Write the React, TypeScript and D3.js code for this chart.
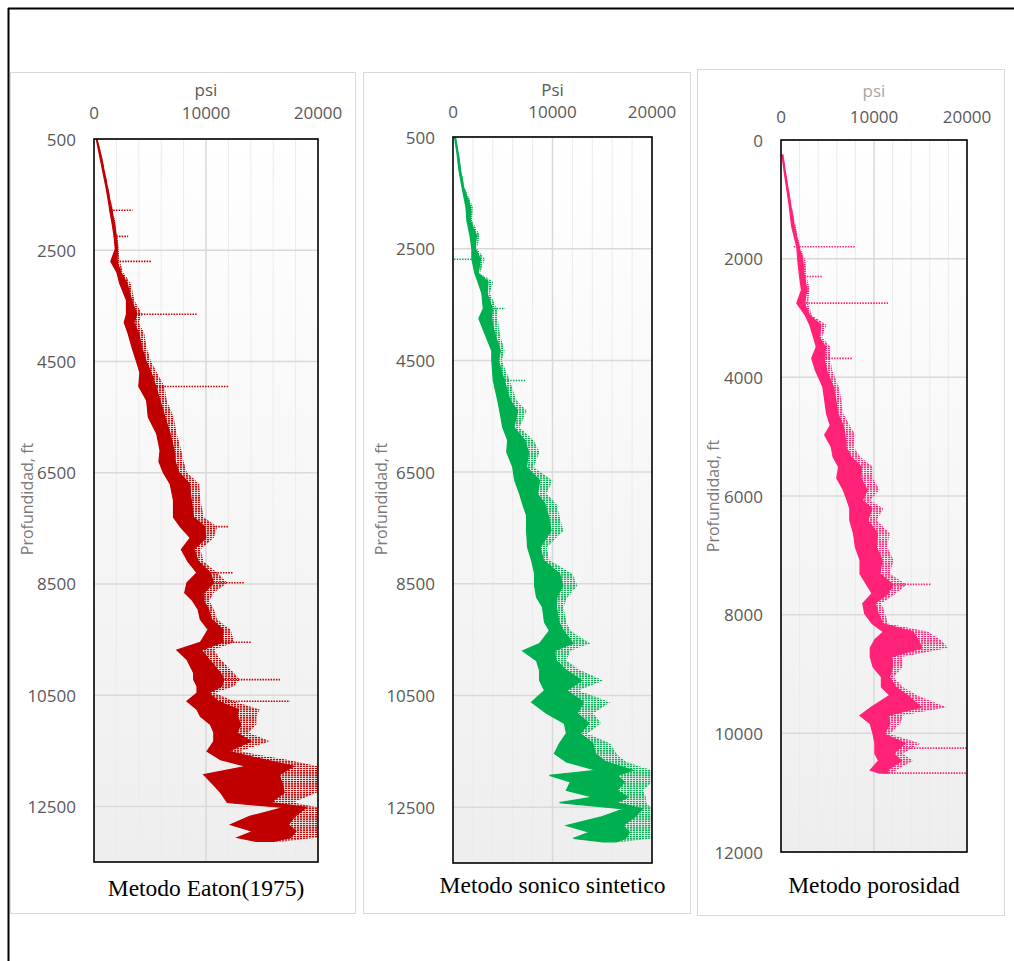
import React from "react";
import * as d3 from "d3";

// ---- Metodo Eaton (1975) ----
const eatonDepth = [500, 800, 1100, 1400, 1700, 1780, 2000, 2250, 2480, 2700, 2900, 3100, 3400, 3650, 3800, 4000, 4250, 4500, 4700, 4950, 5200, 5500, 5800, 6100, 6300, 6500, 6700, 7000, 7300, 7470, 7670, 7880, 8100, 8300, 8480, 8660, 8800, 8960, 9140, 9320, 9550, 9690, 9860, 10100, 10220, 10340, 10460, 10610, 10760, 10880, 11030, 11170, 11330, 11510, 11660, 11780, 11930, 12140, 12250, 12430, 12520, 12680, 12830, 12950, 13060, 13130];
const eatonLo = [200, 500, 800, 1100, 1350, 1400, 1600, 1800, 1900, 1500, 2050, 2300, 2900, 2900, 2700, 3050, 3400, 3800, 4100, 4000, 4700, 4850, 5600, 5900, 5800, 6200, 6800, 7100, 7100, 7700, 8600, 7800, 8400, 9200, 8300, 8100, 8800, 9300, 9500, 10200, 9500, 7400, 8300, 8900, 8900, 9200, 9200, 8300, 9200, 9500, 10400, 10700, 10700, 10100, 11300, 13600, 9800, 10800, 11300, 11900, 16900, 13900, 12200, 14200, 12800, 14500];
const eatonHi = [300, 700, 1000, 1300, 1600, 1700, 1900, 2100, 2200, 2300, 2600, 3300, 3600, 4300, 4000, 4500, 4700, 5100, 5600, 6300, 6500, 7100, 7400, 7800, 8000, 8300, 9400, 9500, 9800, 11000, 10700, 9500, 9800, 11000, 11900, 10700, 10300, 10700, 11000, 12200, 12500, 10700, 11300, 12500, 13000, 12500, 10800, 12500, 14800, 14500, 14500, 13800, 15700, 13000, 17200, 20000, 20000, 20000, 19900, 17800, 20000, 20000, 20000, 20000, 20000, 16900];
const eatonSpikeDepth = [1780, 2250, 2700, 3650, 4950, 7470, 8300, 8480, 9550, 10220, 10610];
const eatonSpikeReach = [3450, 3050, 5150, 9200, 12000, 12000, 12450, 13400, 14100, 16600, 17500];

// ---- Metodo sonico sintetico ----
const sonicoDepth = [500, 800, 1100, 1400, 1750, 2000, 2260, 2490, 2690, 2940, 3090, 3300, 3570, 3750, 4020, 4330, 4500, 4860, 5220, 5400, 5700, 5930, 6140, 6410, 6650, 6890, 7070, 7280, 7550, 7850, 8080, 8320, 8530, 8740, 8920, 9190, 9340, 9570, 9700, 9880, 10050, 10230, 10410, 10620, 10820, 11000, 11180, 11360, 11540, 11690, 11840, 11930, 12050, 12200, 12320, 12420, 12530, 12680, 12830, 12950, 13060, 13120];
const sonicoLo = [150, 400, 600, 900, 1300, 1400, 1700, 1900, 1900, 2200, 2500, 2900, 3050, 2600, 3200, 3900, 3900, 4050, 4500, 4700, 5000, 5500, 5400, 6000, 6200, 6700, 7000, 7400, 7400, 7500, 7900, 8200, 8200, 8400, 9000, 9200, 9700, 8700, 7000, 8400, 8700, 8700, 9200, 7900, 9400, 11200, 11400, 10700, 10200, 11400, 14400, 9700, 11800, 11400, 14100, 10700, 17200, 14800, 11400, 13700, 12100, 15100];
const sonicoHi = [300, 600, 850, 1150, 2000, 1900, 2700, 2400, 3200, 2700, 4050, 3700, 4400, 4500, 4700, 5200, 4900, 5700, 6400, 7400, 6700, 8100, 8700, 8100, 10000, 9400, 10400, 10700, 11100, 9400, 9700, 12000, 12500, 11500, 11100, 11400, 11800, 13800, 11800, 11400, 12800, 15100, 12600, 15800, 14100, 14900, 13500, 15800, 16400, 17400, 20000, 20000, 20000, 19100, 19400, 19400, 20000, 20000, 20000, 19800, 20000, 17100];
const sonicoSpikeDepth = [2690, 3570, 4860];
const sonicoSpikeReach = [0, 5250, 7250];

// ---- Metodo porosidad ----
const porosDepth = [250, 600, 1070, 1460, 1800, 2020, 2300, 2530, 2750, 2950, 3120, 3320, 3490, 3680, 3880, 4160, 4380, 4610, 4810, 4970, 5170, 5340, 5510, 5700, 5900, 6070, 6210, 6410, 6630, 6860, 7080, 7310, 7490, 7640, 7810, 7980, 8150, 8290, 8420, 8560, 8710, 8880, 9050, 9220, 9360, 9560, 9700, 9840, 10010, 10170, 10340, 10460, 10620, 10670];
const porosLo = [100, 400, 850, 1150, 1700, 1800, 2000, 2200, 1700, 2600, 3100, 3500, 3800, 3300, 3700, 4500, 4700, 4900, 5300, 4700, 5400, 5600, 6200, 6000, 6700, 7100, 7400, 7400, 7800, 8000, 8500, 8500, 9200, 9800, 8800, 9000, 9800, 11000, 10100, 9600, 9600, 9900, 10800, 10800, 11700, 9700, 8500, 9600, 9900, 10100, 10100, 10500, 9600, 10600];
const porosHi = [250, 600, 1100, 1600, 2050, 2600, 2750, 3100, 2900, 3300, 4900, 4400, 5300, 5300, 5500, 6200, 6500, 6700, 7400, 8000, 7800, 8500, 9900, 9900, 10600, 9600, 11000, 10300, 11700, 11400, 12100, 11700, 13500, 12400, 10800, 11200, 11500, 15800, 17100, 18000, 13100, 13100, 12100, 13100, 14600, 17800, 13100, 12800, 11700, 15000, 13100, 14200, 12400, 12000];
const porosSpikeDepth = [1800, 2300, 2750, 3680, 7490, 10250, 10670];
const porosSpikeReach = [7950, 4500, 11500, 7700, 16100, 20000, 20000];

const psiTicks = [0, 10000, 20000];

const panels = [
  {
    id: "eaton", color: "#c00000", title: "Metodo Eaton(1975)", unit: "psi", unitColor: "#595959",
    depth: eatonDepth, lo: eatonLo, hi: eatonHi, spikeDepth: eatonSpikeDepth, spikeReach: eatonSpikeReach,
    yDomain: [500, 13500], yTicks: d3.range(500, 13000, 2000),
    card: { x: 10, y: 72, w: 345, h: 841 }, plot: { x: 94, y: 139, w: 224, h: 723 },
    unitY: 89, tickY: 112, labX: 27, labY: 499, titleY: 888,
  },
  {
    id: "sonico", color: "#00b050", title: "Metodo sonico sintetico", unit: "Psi", unitColor: "#595959",
    depth: sonicoDepth, lo: sonicoLo, hi: sonicoHi, spikeDepth: sonicoSpikeDepth, spikeReach: sonicoSpikeReach,
    yDomain: [500, 13500], yTicks: d3.range(500, 13000, 2000),
    card: { x: 363, y: 72, w: 327, h: 841 }, plot: { x: 453, y: 137, w: 199, h: 726 },
    unitY: 89, tickY: 111, labX: 381, labY: 499, titleY: 885,
  },
  {
    id: "poros", color: "#ff2277", title: "Metodo porosidad", unit: "psi", unitColor: "#a6a6a6",
    depth: porosDepth, lo: porosLo, hi: porosHi, spikeDepth: porosSpikeDepth, spikeReach: porosSpikeReach,
    yDomain: [0, 12000], yTicks: d3.range(0, 12001, 2000),
    card: { x: 697, y: 69, w: 307, h: 846 }, plot: { x: 781, y: 140, w: 186, h: 712 },
    unitY: 90, tickY: 116, labX: 713, labY: 496, titleY: 885,
  },
];

const axisFont = "'Open Sans', 'Liberation Sans', sans-serif";

type Row = { d: number; lo: number; hi: number };

function Panel({ p }: { p: (typeof panels)[number] }) {
  const { plot, card } = p;
  const x = d3.scaleLinear().domain([0, 20000]).range([plot.x, plot.x + plot.w]);
  const y = d3.scaleLinear().domain(p.yDomain).range([plot.y, plot.y + plot.h]);

  const rows: Row[] = p.depth.map((d, i) => ({ d, lo: p.lo[i], hi: p.hi[i] }));
  // full spread of the log, drawn as dotted horizontal hairs
  const outer = d3
    .area<Row>()
    .y((r) => y(r.d))
    .x0((r) => x(r.lo))
    .x1((r) => x(r.hi))
    .curve(d3.curveLinear);
  // denser core on the left part of the spread
  const core = d3
    .area<Row>()
    .y((r) => y(r.d))
    .x0((r) => x(r.lo))
    .x1((r) => x(r.lo + (r.hi - r.lo) * 0.66))
    .curve(d3.curveLinear);

  const mid = (depth: number) => {
    const i = Math.max(0, d3.bisector((r: Row) => r.d).left(rows, depth) - 1);
    const r = rows[i];
    return (r.lo + r.hi) / 2;
  };

  const minor = d3.range(2000, 20000, 2000).filter((v) => v !== 10000);

  return (
    <g>
      <rect x={card.x + 0.5} y={card.y + 0.5} width={card.w} height={card.h} fill="#fff" stroke="#d9d9d9" />
      <defs>
        <linearGradient id={`bg-${p.id}`} x1="0" y1="0" x2="0" y2="1">
          <stop offset="0" stopColor="#ffffff" />
          <stop offset="1" stopColor="#eeeeee" />
        </linearGradient>
        <pattern id={`pat-${p.id}`} width={3} height={2.2} patternUnits="userSpaceOnUse">
          <rect width={2.2} height={1.4} fill={p.color} />
        </pattern>
        <clipPath id={`clip-${p.id}`}>
          <rect x={plot.x} y={plot.y} width={plot.w} height={plot.h} />
        </clipPath>
      </defs>
      <rect x={plot.x} y={plot.y} width={plot.w} height={plot.h} fill={`url(#bg-${p.id})`} />
      {minor.map((v) => (
        <line key={v} x1={x(v)} x2={x(v)} y1={plot.y} y2={plot.y + plot.h} stroke="#ebebeb" strokeWidth={1} />
      ))}
      <line x1={x(10000)} x2={x(10000)} y1={plot.y} y2={plot.y + plot.h} stroke="#d9d9d9" strokeWidth={1.5} />
      {p.yTicks.map((t) => (
        <line key={t} x1={plot.x} x2={plot.x + plot.w} y1={y(t)} y2={y(t)} stroke="#d9d9d9" strokeWidth={1.5} />
      ))}
      <g clipPath={`url(#clip-${p.id})`}>
        <path d={outer(rows) || ""} fill={`url(#pat-${p.id})`} />
        <path d={core(rows) || ""} fill={p.color} stroke={p.color} strokeWidth={1.2} />
        {p.spikeDepth.map((d, i) => (
          <line
            key={d}
            x1={x(mid(d))}
            x2={x(p.spikeReach[i])}
            y1={y(d)}
            y2={y(d)}
            stroke={p.color}
            strokeWidth={1.6}
            strokeDasharray="1.5 1.2"
          />
        ))}
      </g>
      <rect x={plot.x} y={plot.y} width={plot.w} height={plot.h} fill="none" stroke="#000" strokeWidth={1.6} />
      {psiTicks.map((t) => (
        <text key={t} x={x(t)} y={p.tickY} textAnchor="middle" dominantBaseline="central" fontFamily={axisFont} fontSize={17} fill="#595959">
          {t}
        </text>
      ))}
      <text x={x(10000)} y={p.unitY} textAnchor="middle" dominantBaseline="central" fontFamily={axisFont} fontSize={17} fill={p.unitColor}>
        {p.unit}
      </text>
      {p.yTicks.map((t) => (
        <text key={t} x={plot.x - 18} y={y(t)} textAnchor="end" dominantBaseline="central" fontFamily={axisFont} fontSize={17} fill="#595959">
          {t}
        </text>
      ))}
      <text
        transform={`translate(${p.labX},${p.labY}) rotate(-90)`}
        textAnchor="middle"
        dominantBaseline="central"
        fontFamily={axisFont}
        fontSize={16}
        fill="#7a7a7a"
      >
        Profundidad, ft
      </text>
      <text x={x(10000)} y={p.titleY} textAnchor="middle" dominantBaseline="central" fontFamily="'Liberation Serif', 'Times New Roman', serif" fontSize={23.5} fill="#000">
        {p.title}
      </text>
    </g>
  );
}

export default function App() {
  return (
    <svg width={1014} height={961} style={{ position: "absolute", left: 0, top: 0, background: "#fff" }}>
      <rect width={1014} height={961} fill="#fff" />
      {panels.map((p) => (
        <Panel key={p.id} p={p} />
      ))}
      <line x1={8.5} x2={8.5} y1={8} y2={961} stroke="#000" strokeWidth={2} />
      <line x1={8} x2={1014} y1={8.5} y2={8.5} stroke="#000" strokeWidth={2} />
    </svg>
  );
}
